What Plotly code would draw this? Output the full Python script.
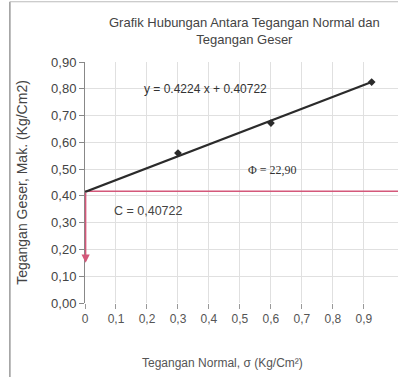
import plotly.graph_objects as go

# Data
point_x = [0.30, 0.60, 0.925]
point_y = [0.56, 0.672, 0.825]
trend_x = [0.0, 0.925]
trend_y = [0.415, 0.825]
cohesion = 0.417
arrow_bottom = 0.15
x_ticks = [0, 0.1, 0.2, 0.3, 0.4, 0.5, 0.6, 0.7, 0.8, 0.9]
x_ticktext = ["0", "0,1", "0,2", "0,3", "0,4", "0,5", "0,6", "0,7", "0,8", "0,9"]
y_ticks = [0.0, 0.1, 0.2, 0.3, 0.4, 0.5, 0.6, 0.7, 0.8, 0.9]
y_ticktext = ["0,00", "0,10", "0,20", "0,30", "0,40", "0,50", "0,60", "0,70", "0,80", "0,90"]

red = "#d4587a"
txt = "#444444"
font = "Liberation Sans, Arial, sans-serif"

fig = go.Figure()
# red horizontal line (cohesion level)
fig.add_trace(go.Scatter(x=[0, 1.05], y=[cohesion, cohesion], mode="lines",
                         line=dict(color=red, width=1.5), hoverinfo="skip", showlegend=False))
# trend line
fig.add_trace(go.Scatter(x=trend_x, y=trend_y, mode="lines",
                         line=dict(color="#2b2b2b", width=2.2), showlegend=False))
# data points
fig.add_trace(go.Scatter(x=point_x, y=point_y, mode="markers",
                         marker=dict(symbol="diamond", size=6, color="#2b2b2b"),
                         showlegend=False))

# red arrow below the intercept
fig.add_annotation(x=0.002, y=arrow_bottom, xref="x", yref="y",
                   ax=0.002, ay=cohesion, axref="x", ayref="y",
                   showarrow=True, arrowhead=2, arrowsize=1.1,
                   arrowwidth=1.5, arrowcolor=red, text="")

fig.add_annotation(x=0.39, y=0.80, xref="x", yref="y", text="y = 0.4224 x + 0.40722",
                   showarrow=False, font=dict(size=12, color="#333333", family=font))
fig.add_annotation(x=0.605, y=0.497, xref="x", yref="y", text="Φ = 22,90",
                   showarrow=False, font=dict(size=12, color="#333333", family="Liberation Serif, serif"))
fig.add_annotation(x=0.205, y=0.345, xref="x", yref="y", text="C = 0,40722",
                   showarrow=False, font=dict(size=12.5, color="#444444", family=font))

# title and x-axis title as paper annotations
fig.add_annotation(x=0.51, y=1.129, xref="paper", yref="paper", xanchor="center", yanchor="middle",
                   text="Grafik Hubungan Antara Tegangan Normal dan<br>Tegangan Geser",
                   showarrow=False, font=dict(size=13, color=txt, family=font))
fig.add_annotation(x=0.44, y=-0.249, xref="paper", yref="paper", xanchor="center", yanchor="middle",
                   text="Tegangan Normal, σ (Kg/Cm²)",
                   showarrow=False, font=dict(size=12, color="#555555", family=font))

# frame lines (left and top)
fig.add_shape(type="line", xref="paper", yref="paper", x0=-0.24, x1=-0.24, y0=-0.35, y1=1.25,
              line=dict(color="#999999", width=1.5))
fig.add_shape(type="line", xref="paper", yref="paper", x0=-0.24, x1=1.05, y0=1.25, y1=1.25,
              line=dict(color="#bbbbbb", width=1))

fig.update_layout(
    width=398, height=377,
    margin=dict(l=85, r=0, t=62, b=74),
    paper_bgcolor="white", plot_bgcolor="white",
    xaxis=dict(range=[0, 1.01], tickvals=x_ticks, ticktext=x_ticktext,
               showgrid=True, gridcolor="#e0e0e0", gridwidth=1, zeroline=False,
               showline=False, ticks="outside", ticklen=5, tickcolor="#999999",
               tickfont=dict(size=12, color="#555555", family=font)),
    yaxis=dict(range=[0, 0.9], tickvals=y_ticks, ticktext=y_ticktext,
               showgrid=True, gridcolor="#e0e0e0", gridwidth=1, zeroline=False,
               showline=True, linecolor="#888888", linewidth=1,
               ticks="outside", ticklen=5, tickcolor="#888888",
               tickfont=dict(size=13, color="#444444", family=font),
               title=dict(text="Tegangan Geser, Mak. (Kg/Cm2)", standoff=20,
                          font=dict(size=14, color="#444444", family=font))),
)

fig.write_html("out.html")
